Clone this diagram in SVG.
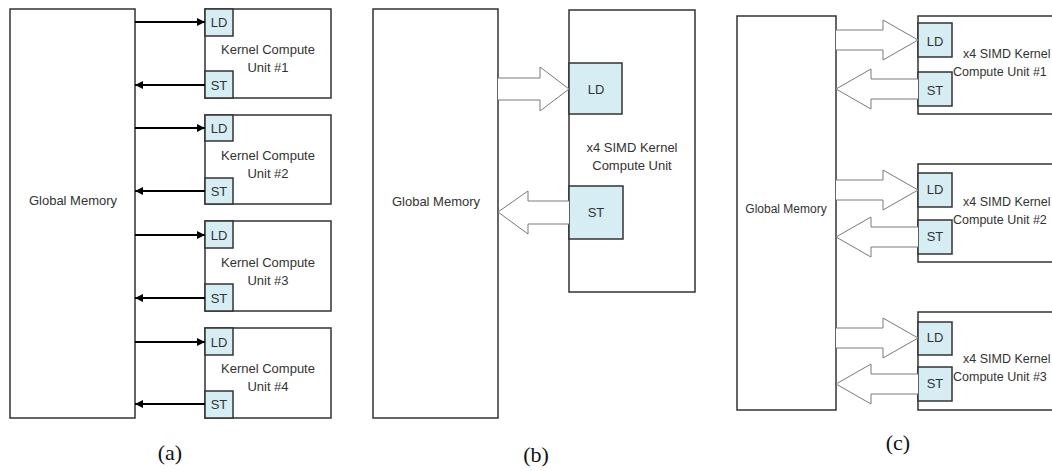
<svg xmlns="http://www.w3.org/2000/svg" width="1052" height="471" viewBox="0 0 1052 471">
<defs>
<style>
.box{fill:#fff;stroke:#333;stroke-width:1.5}
.port{fill:#d6edf4;stroke:#333;stroke-width:1.5}
.t{font-family:"Liberation Sans",Arial,sans-serif;font-size:13px;fill:#333;text-anchor:middle}
.ts{font-family:"Liberation Sans",Arial,sans-serif;font-size:13px;fill:#333}
.tc{font-family:"Liberation Sans",Arial,sans-serif;font-size:12.5px;fill:#333}
.cap{font-family:"Liberation Serif","Times New Roman",serif;font-size:22px;fill:#111;text-anchor:middle}
.ln{stroke:#000;stroke-width:1.8;fill:none}
.blk{fill:#fff;stroke:#7a7a7a;stroke-width:1}
</style>
<marker id="ah" viewBox="0 0 10 10" refX="10" refY="5" markerWidth="8" markerHeight="8" markerUnits="userSpaceOnUse" orient="auto">
<path d="M0,0 L10,5 L0,10 Z" fill="#000"/>
</marker>
</defs>

<!-- Panel (a) -->
<g id="a-memory">
<rect class="box" x="10" y="9" width="125" height="409"/>
<text class="t" x="73" y="205">Global Memory</text>
</g>
<g id="a-unit1">
<rect class="box" x="205" y="9" width="126" height="89"/>
<rect class="port" x="205" y="9" width="28" height="27"/>
<rect class="port" x="205" y="71" width="28" height="27"/>
<text class="t" x="219" y="27">LD</text>
<text class="t" x="219" y="90">ST</text>
<text class="t" x="268" y="54">Kernel Compute</text>
<text class="t" x="268" y="72">Unit #1</text>
</g>
<g id="a-unit2">
<rect class="box" x="205" y="115" width="126" height="89"/>
<rect class="port" x="205" y="115" width="28" height="26"/>
<rect class="port" x="205" y="178" width="28" height="26"/>
<text class="t" x="219" y="133">LD</text>
<text class="t" x="219" y="196">ST</text>
<text class="t" x="268" y="160">Kernel Compute</text>
<text class="t" x="268" y="178">Unit #2</text>
</g>
<g id="a-unit3">
<rect class="box" x="205" y="221" width="126" height="90"/>
<rect class="port" x="205" y="221" width="28" height="27"/>
<rect class="port" x="205" y="284" width="28" height="27"/>
<text class="t" x="219" y="240">LD</text>
<text class="t" x="219" y="303">ST</text>
<text class="t" x="268" y="267">Kernel Compute</text>
<text class="t" x="268" y="285">Unit #3</text>
</g>
<g id="a-unit4">
<rect class="box" x="205" y="328" width="126" height="90"/>
<rect class="port" x="205" y="328" width="28" height="27"/>
<rect class="port" x="205" y="391" width="28" height="27"/>
<text class="t" x="219" y="347">LD</text>
<text class="t" x="219" y="409">ST</text>
<text class="t" x="268" y="373">Kernel Compute</text>
<text class="t" x="268" y="391">Unit #4</text>
</g>
<g id="a-connectors">
<line class="ln" x1="135" y1="22" x2="205" y2="22" marker-end="url(#ah)"/>
<line class="ln" x1="205" y1="85" x2="135" y2="85" marker-end="url(#ah)"/>
<line class="ln" x1="135" y1="128" x2="205" y2="128" marker-end="url(#ah)"/>
<line class="ln" x1="205" y1="191" x2="135" y2="191" marker-end="url(#ah)"/>
<line class="ln" x1="135" y1="235" x2="205" y2="235" marker-end="url(#ah)"/>
<line class="ln" x1="205" y1="298" x2="135" y2="298" marker-end="url(#ah)"/>
<line class="ln" x1="135" y1="342" x2="205" y2="342" marker-end="url(#ah)"/>
<line class="ln" x1="205" y1="404" x2="135" y2="404" marker-end="url(#ah)"/>
</g>
<text class="cap" x="170" y="460">(a)</text>

<!-- Panel (b) -->
<g id="b-memory">
<rect class="box" x="373" y="9" width="125" height="409"/>
<text class="t" x="436" y="206">Global Memory</text>
</g>
<g id="b-unit">
<rect class="box" x="569" y="10" width="126" height="282"/>
<rect class="port" x="569" y="63" width="53" height="51"/>
<rect class="port" x="569" y="186" width="54" height="53"/>
<text class="t" x="596" y="94">LD</text>
<text class="t" x="596" y="217">ST</text>
<text class="t" x="632" y="152">x4 SIMD Kernel</text>
<text class="t" x="632" y="170">Compute Unit</text>
</g>
<g id="b-connectors">
<path class="blk" d="M498,78 L540,78 L540,67 L569,89 L540,111 L540,100 L498,100"/>
<path class="blk" d="M569,201 L528,201 L528,191 L498,212 L528,234 L528,224 L569,224"/>
</g>
<text class="cap" x="536" y="462">(b)</text>

<!-- Panel (c) -->
<g id="c-memory">
<rect class="box" x="737" y="16" width="99" height="394"/>
<text class="ts" x="786" y="213" text-anchor="middle" style="font-size:12px">Global Memory</text>
</g>
<g id="c-unit1">
<rect class="box" x="918" y="16" width="150" height="98"/>
<rect class="port" x="918" y="23" width="34" height="34"/>
<rect class="port" x="918" y="72" width="34" height="34"/>
<text class="ts" x="935" y="46" text-anchor="middle">LD</text>
<text class="ts" x="935" y="95" text-anchor="middle">ST</text>
<text class="tc" x="963" y="58">x4 SIMD Kernel</text>
<text class="tc" x="953" y="76">Compute Unit #1</text>
</g>
<g id="c-unit2">
<rect class="box" x="918" y="164" width="150" height="98"/>
<rect class="port" x="918" y="173" width="34" height="34"/>
<rect class="port" x="918" y="220" width="34" height="34"/>
<text class="ts" x="935" y="194" text-anchor="middle">LD</text>
<text class="ts" x="935" y="241" text-anchor="middle">ST</text>
<text class="tc" x="963" y="206">x4 SIMD Kernel</text>
<text class="tc" x="953" y="224">Compute Unit #2</text>
</g>
<g id="c-unit3">
<rect class="box" x="918" y="312" width="150" height="98"/>
<rect class="port" x="918" y="322" width="34" height="33"/>
<rect class="port" x="918" y="367" width="34" height="34"/>
<text class="ts" x="935" y="342" text-anchor="middle">LD</text>
<text class="ts" x="935" y="388" text-anchor="middle">ST</text>
<text class="tc" x="963" y="363">x4 SIMD Kernel</text>
<text class="tc" x="953" y="381">Compute Unit #3</text>
</g>
<g id="c-connectors">
<path class="blk" d="M836,30 L883,30 L883,20 L918,40 L883,60 L883,50 L836,50"/>
<path class="blk" d="M918,79 L871,79 L871,69 L836,89 L871,109 L871,99 L918,99"/>
<path class="blk" d="M836,180 L883,180 L883,170 L918,190 L883,210 L883,200 L836,200"/>
<path class="blk" d="M918,227 L871,227 L871,217 L836,237 L871,257 L871,247 L918,247"/>
<path class="blk" d="M836,328 L883,328 L883,318 L918,338 L883,358 L883,348 L836,348"/>
<path class="blk" d="M918,374 L871,374 L871,364 L836,384 L871,404 L871,394 L918,394"/>
</g>
<text class="cap" x="898" y="450">(c)</text>
</svg>
